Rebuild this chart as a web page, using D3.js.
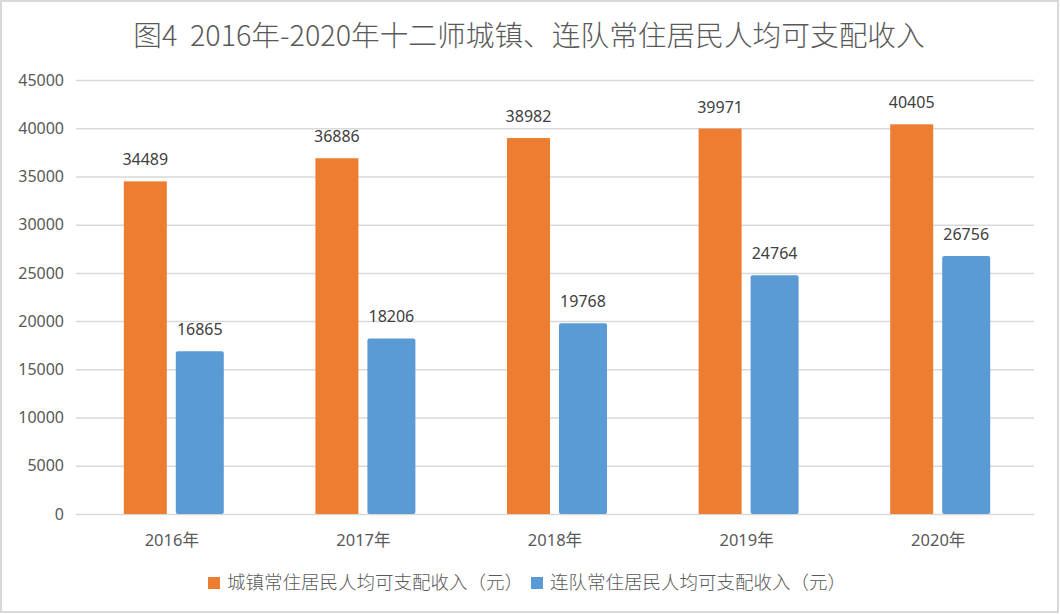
<!DOCTYPE html>
<html lang="zh">
<head>
<meta charset="UTF-8">
<title>十二师城镇、连队常住居民人均可支配收入</title>
<script src="https://d3js.org/d3.v7.min.js"></script>
<style>
  body { margin: 0; background: #fff; }
  text { font-family: "Noto Sans", "Noto Sans CJK SC", sans-serif; fill: #595959; }
</style>
</head>
<body>
<div id="chart"></div>
<script>
// data
const years = ["2016年", "2017年", "2018年", "2019年", "2020年"]
const townIncome = [34489, 36886, 38982, 39971, 40405]
const companyIncome = [16865, 18206, 19768, 24764, 26756]
const seriesNames = ["城镇常住居民人均可支配收入（元）", "连队常住居民人均可支配收入（元）"]
const yTicks = [0, 5000, 10000, 15000, 20000, 25000, 30000, 35000, 40000, 45000]

const width = 1060
const height = 614
const colors = ["#ED7D31", "#5B9BD5"]

const svg = d3.select("#chart")
    .append("svg")
    .attr("width", width)
    .attr("height", height)

// outer frame
svg.append("rect")
    .attr("x", 1).attr("y", 1)
    .attr("width", width - 3).attr("height", height - 3)
    .attr("fill", "#fff")
    .attr("stroke", "#d9d9d9")
    .attr("stroke-width", 2)

svg.append("text")
    .attr("x", 529)
    .attr("y", 46)
    .attr("text-anchor", "middle")
    .style("font-size", "28.7px")
    .style("font-weight", "300")
    .style("white-space", "pre")
    .style("font-family", "'Noto Sans CJK SC', sans-serif")
    .text("图4\u00a0\u00a02016年-2020年十二师城镇、连队常住居民人均可支配收入")

var x = d3.scaleBand()
    .domain(years)
    .range([76, 1034])

var y = d3.scaleLinear()
    .domain([0, 45000])
    .range([514, 80])

// gridlines + y labels
var yAxis = d3.axisLeft(y)
    .tickValues(yTicks)
    .tickSize(-(1034 - 76))
    .tickPadding(12)
    .tickFormat(d3.format("d"))

var gy = svg.append("g")
    .attr("transform", "translate(76,0)")
    .call(yAxis)
gy.select(".domain").remove()
gy.selectAll(".tick line").attr("stroke", "#d9d9d9").attr("stroke-width", 1.5)
gy.selectAll(".tick text")
    .attr("fill", "#595959")
    .style("font-size", "16px")

// x labels
years.forEach(function(yr) {
    svg.append("text")
        .attr("x", x(yr) + x.bandwidth() / 2)
        .attr("y", 546)
        .attr("text-anchor", "middle")
        .style("font-size", "16.5px")
        .text(yr)
})

var bw = x.bandwidth()
var orangeW = 43, blueW = 48, gap = 9
var groupW = orangeW + gap + blueW

function barX(i, s) {
    var start = x(years[i]) + bw / 2 - groupW / 2 + 2
    return s === 0 ? start : start + orangeW + gap
}

var series = [townIncome, companyIncome]
series.forEach(function(vals, s) {
    var w = s === 0 ? orangeW : blueW
    svg.selectAll(".bar" + s)
        .data(vals)
        .enter()
        .append("rect")
        .attr("class", "bar" + s)
        .attr("x", (d, i) => barX(i, s))
        .attr("y", d => y(d))
        .attr("width", w)
        .attr("height", d => y(0) - y(d))
        .attr("rx", s === 1 ? 2 : 0)
        .attr("fill", colors[s])

    svg.selectAll(".lbl" + s)
        .data(vals)
        .enter()
        .append("text")
        .attr("class", "lbl" + s)
        .attr("x", (d, i) => barX(i, s) + w / 2)
        .attr("y", d => y(d) - 16)
        .attr("text-anchor", "middle")
        .style("fill", "#404040")
        .style("font-size", "16px")
        .text(d => d)
})

// legend
var legendX = [208, 531]
seriesNames.forEach(function(name, s) {
    svg.append("rect")
        .attr("x", legendX[s])
        .attr("y", 577)
        .attr("width", 12)
        .attr("height", 12)
        .attr("fill", colors[s])
    svg.append("text")
        .attr("x", legendX[s] + 19)
        .attr("y", 589)
        .style("font-size", "18.5px")
        .style("font-weight", "300")
        .style("font-family", "'Noto Sans CJK SC', sans-serif")
        .text(name)
})
</script>
</body>
</html>
